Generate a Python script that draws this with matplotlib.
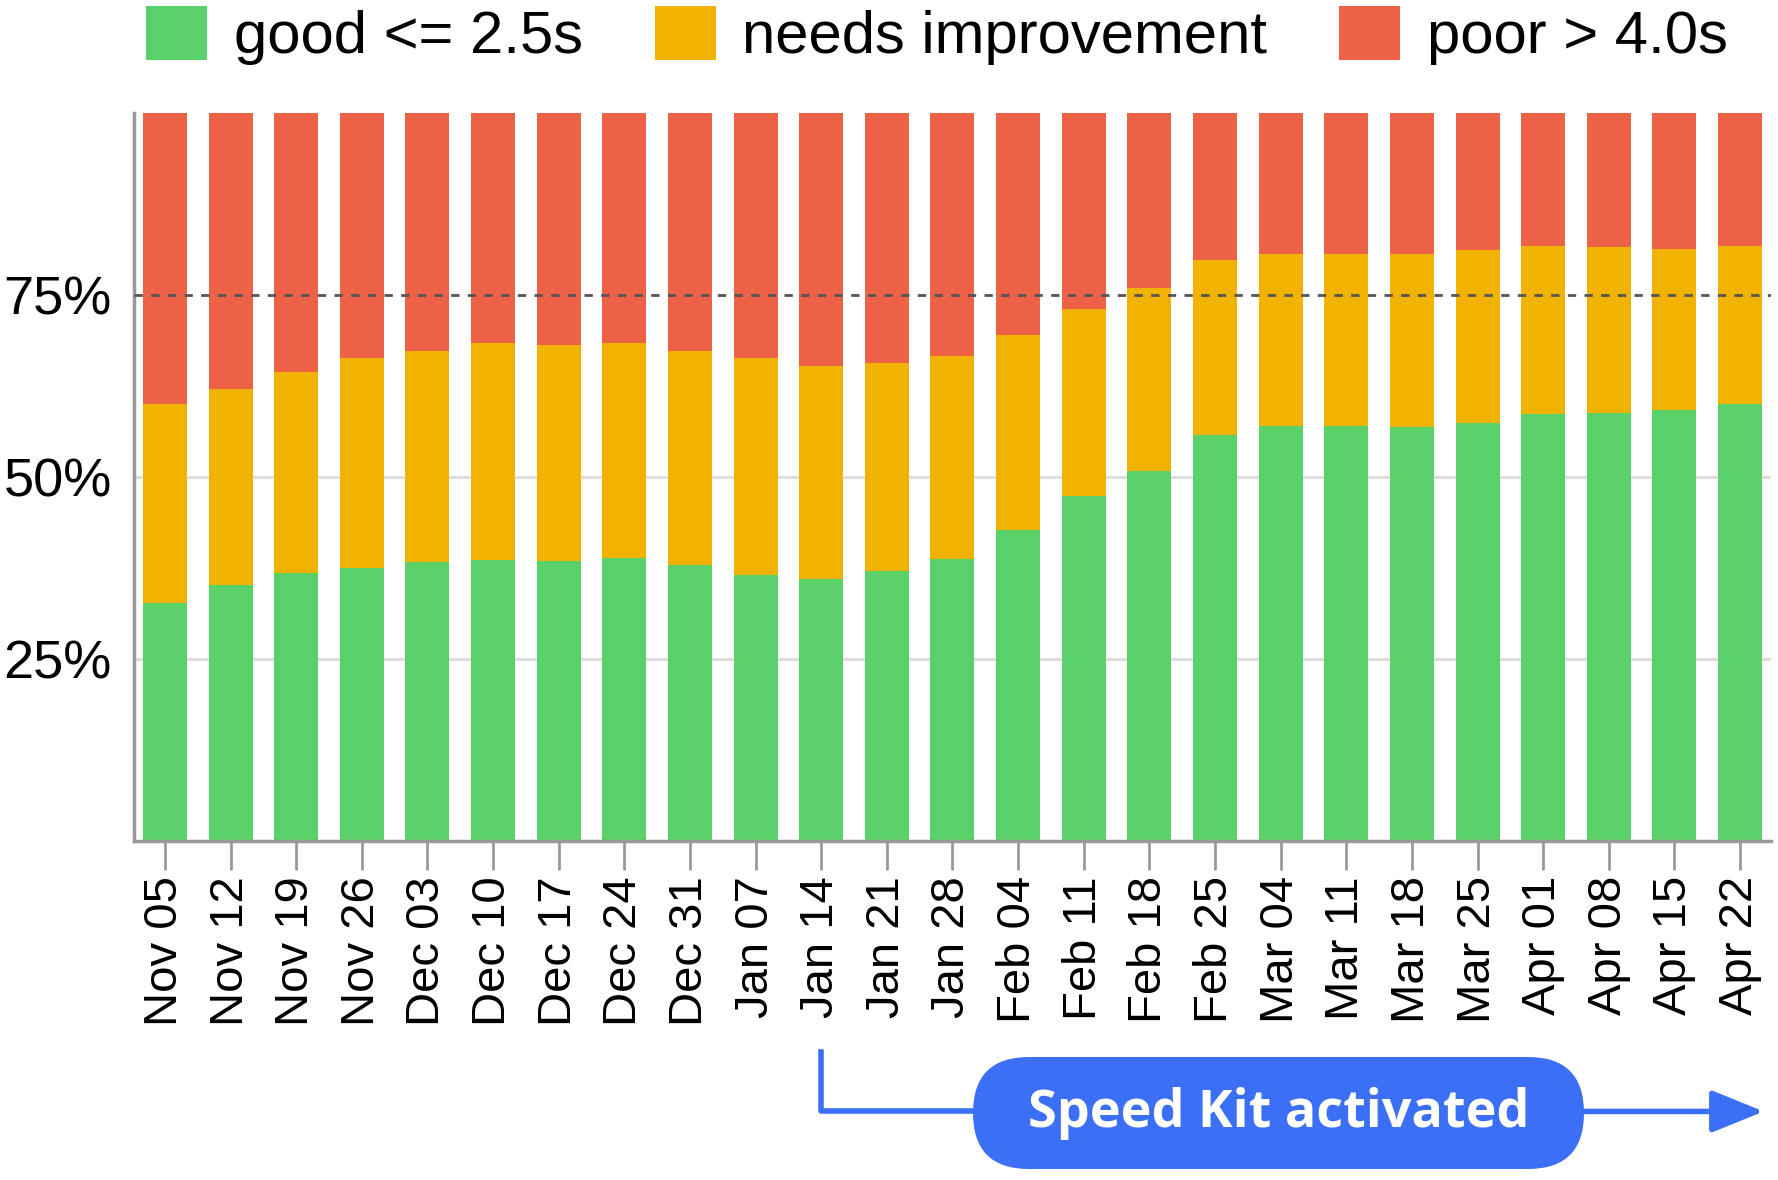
import matplotlib.pyplot as plt
import matplotlib.patches as mpatches
import numpy as np

weeks = ['Nov 05', 'Nov 12', 'Nov 19', 'Nov 26', 'Dec 03', 'Dec 10', 'Dec 17', 'Dec 24', 'Dec 31',
         'Jan 07', 'Jan 14', 'Jan 21', 'Jan 28', 'Feb 04', 'Feb 11', 'Feb 18', 'Feb 25',
         'Mar 04', 'Mar 11', 'Mar 18', 'Mar 25', 'Apr 01', 'Apr 08', 'Apr 15', 'Apr 22']
# share of page loads (%) per category
good = [32.7, 35.2, 36.9, 37.5, 38.3, 38.6, 38.5, 38.9, 38.0, 36.6, 36.1, 37.2, 38.8,
        42.8, 47.4, 50.8, 55.8, 57.0, 57.0, 56.9, 57.5, 58.7, 58.9, 59.2, 60.1]
good_plus_needs = [60.1, 62.1, 64.5, 66.4, 67.4, 68.4, 68.2, 68.4, 67.3, 66.4, 65.3, 65.7, 66.7,
                   69.5, 73.1, 76.0, 79.9, 80.7, 80.7, 80.7, 81.2, 81.8, 81.6, 81.3, 81.8]
needs = [b - a for a, b in zip(good, good_plus_needs)]
poor = [100 - b for b in good_plus_needs]
activation_week = 'Jan 14'

green = '#5bd16a'
yellow = '#f2b200'
red = '#ed6247'
blue = '#3b6ff6'

plt.rcParams['font.family'] = ['Liberation Sans', 'DejaVu Sans']

fig = plt.figure(figsize=(17.78, 11.80), dpi=100)
ax = fig.add_axes([0.0754, 0.287, 0.9206, 0.617])

x = np.arange(len(weeks))
w = 0.67
ax.bar(x, good, w, color=green, label='good <= 2.5s', zorder=2)
ax.bar(x, needs, w, bottom=good, color=yellow, label='needs improvement', zorder=2)
ax.bar(x, poor, w, bottom=good_plus_needs, color=red, label='poor > 4.0s', zorder=2)

ax.set_xlim(-0.47, len(weeks) - 0.53)
ax.set_ylim(0, 100)

for yv in [25, 50]:
    ax.axhline(yv, color='#dcdcdc', lw=2, zorder=1)
ax.axhline(75, color='#555555', lw=2, ls=(0, (3, 3)), zorder=3)

ax.set_yticks([25, 50, 75])
ax.set_yticklabels(['25%', '50%', '75%'])
ax.tick_params(axis='y', length=0, pad=16, labelsize=39)
ax.set_xticks(x)
ax.set_xticklabels(weeks, rotation=90)
ax.tick_params(axis='x', length=21, width=2, color='#999999', pad=4, labelsize=34)

for s in ['top', 'right']:
    ax.spines[s].set_visible(False)
for s in ['left', 'bottom']:
    ax.spines[s].set_color('#999999')
    ax.spines[s].set_linewidth(2.5)

fig.legend(loc='center', bbox_to_anchor=(0.527, 0.97), ncol=3, frameon=False, fontsize=43,
           handlelength=1.02, handleheight=1.02, handletextpad=0.45, columnspacing=1.2)

# "Speed Kit activated" marker below the axis
tr = ax.get_xaxis_transform()
xa = weeks.index(activation_week)
ax.plot([xa, xa, 12.3], [-0.29, -0.371, -0.371], color=blue, lw=4, transform=tr, clip_on=False)
ax.annotate('', xy=(24.36, -0.371), xytext=(21.6, -0.371), xycoords=tr, textcoords=tr,
            arrowprops=dict(arrowstyle='-|>,head_length=3.2,head_width=1.3', color=blue, lw=4,
                            shrinkA=0, shrinkB=0))
pill = mpatches.FancyBboxPatch((9.73, 0.11), 6.11, 1.12, boxstyle='round,pad=0,rounding_size=0.56',
                               transform=fig.dpi_scale_trans, fc=blue, ec='none', zorder=5)
fig.patches.append(pill)
fig.text(12.785 / 17.78, 0.67 / 11.80, 'Speed Kit activated', ha='center', va='center',
         color='white', fontsize=37.5, fontweight='bold', family='Open Sans', zorder=6)

fig.savefig('out.png', dpi=100)
